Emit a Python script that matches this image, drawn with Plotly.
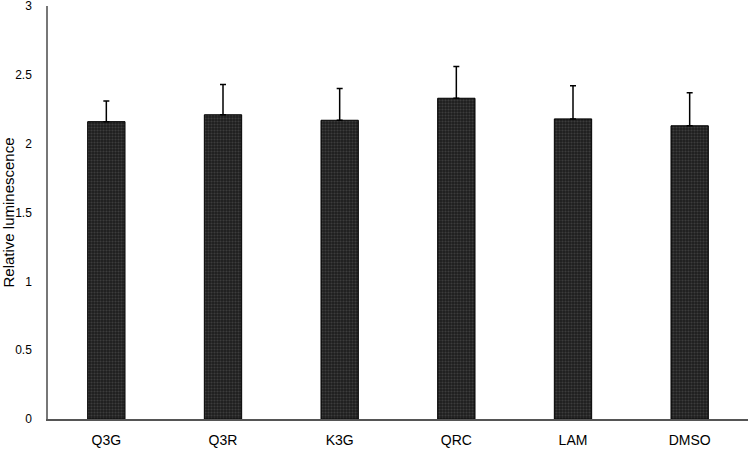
import plotly.graph_objects as go

# Values
samples = ["Q3G", "Q3R", "K3G", "QRC", "LAM", "DMSO"]
luminescence = [2.16, 2.21, 2.17, 2.33, 2.18, 2.13]
error_up = [0.15, 0.22, 0.23, 0.23, 0.24, 0.24]

y_ticks = [0, 0.5, 1, 1.5, 2, 2.5, 3]

fig = go.Figure()

fig.add_trace(go.Bar(
    x=samples,
    y=luminescence,
    marker=dict(
        color="#262626",
        line=dict(color="#000000", width=1),
        pattern=dict(shape=".", fgcolor="#5a5a5a", bgcolor="#1e1e1e",
                     size=3, solidity=0.4),
    ),
    error_y=dict(type="data", array=error_up, arrayminus=[0] * len(error_up),
                 symmetric=False, color="#000000", thickness=1.5, width=3),
    showlegend=False,
))

fig.update_layout(
    width=750,
    height=449,
    margin=dict(l=48, r=2, t=6, b=30),
    paper_bgcolor="white",
    plot_bgcolor="white",
    bargap=0.68,
    font=dict(family="Liberation Sans, Arial, sans-serif", color="#000000"),
    xaxis=dict(
        showline=True, linecolor="#555555", linewidth=1.5,
        showgrid=False, ticks="", tickfont=dict(size=14),
        ticklabelstandoff=7, automargin=False,
    ),
    yaxis=dict(
        range=[0, 3.0], tickvals=y_ticks,
        ticktext=["0", "0.5", "1", "1.5", "2", "2.5", "3"],
        showline=True, linecolor="#777777", linewidth=1.5,
        showgrid=False, zeroline=False, ticks="",
        tickfont=dict(size=12), ticklabelstandoff=12, automargin=False,
        ticklabeloverflow="allow",
        title=dict(text="Relative luminescence", font=dict(size=15), standoff=10),
    ),
)

# remove the default page margin so the figure sits at the window's corner
fig.write_html("out.html", config={"displayModeBar": False},
               post_script="document.body.style.margin='0';")
